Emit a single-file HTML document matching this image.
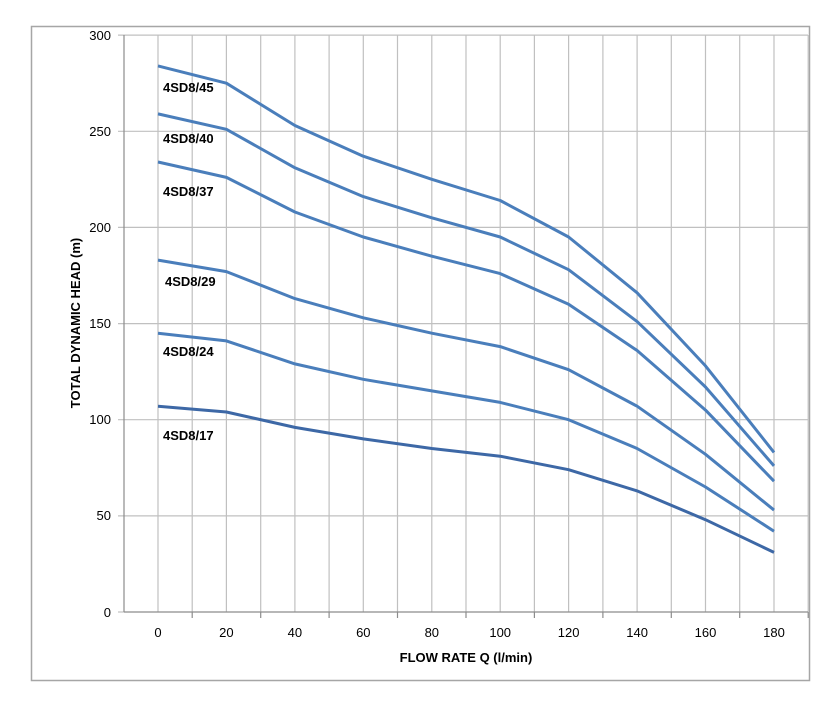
<!DOCTYPE html>
<html><head><style>body{margin:0;background:#fff}</style></head><body>
<svg width="836" height="707" xmlns="http://www.w3.org/2000/svg" font-family="Liberation Sans, sans-serif">
<rect x="31.5" y="26.5" width="778" height="654" fill="#fff" stroke="#a6a6a6" stroke-width="1.5"/>
<g stroke="#c0c0c0" stroke-width="1.2">
<line x1="158" y1="35" x2="158" y2="612"/><line x1="192.2" y1="35" x2="192.2" y2="612"/><line x1="226.4" y1="35" x2="226.4" y2="612"/><line x1="260.7" y1="35" x2="260.7" y2="612"/><line x1="294.9" y1="35" x2="294.9" y2="612"/><line x1="329.1" y1="35" x2="329.1" y2="612"/><line x1="363.3" y1="35" x2="363.3" y2="612"/><line x1="397.5" y1="35" x2="397.5" y2="612"/><line x1="431.8" y1="35" x2="431.8" y2="612"/><line x1="466" y1="35" x2="466" y2="612"/><line x1="500.2" y1="35" x2="500.2" y2="612"/><line x1="534.4" y1="35" x2="534.4" y2="612"/><line x1="568.6" y1="35" x2="568.6" y2="612"/><line x1="602.9" y1="35" x2="602.9" y2="612"/><line x1="637.1" y1="35" x2="637.1" y2="612"/><line x1="671.3" y1="35" x2="671.3" y2="612"/><line x1="705.5" y1="35" x2="705.5" y2="612"/><line x1="739.7" y1="35" x2="739.7" y2="612"/><line x1="774" y1="35" x2="774" y2="612"/><line x1="808.2" y1="35" x2="808.2" y2="612"/>
<line x1="118" y1="35.1" x2="808" y2="35.1"/><line x1="118" y1="131.3" x2="808" y2="131.3"/><line x1="118" y1="227.4" x2="808" y2="227.4"/><line x1="118" y1="323.6" x2="808" y2="323.6"/><line x1="118" y1="419.7" x2="808" y2="419.7"/><line x1="118" y1="515.9" x2="808" y2="515.9"/><line x1="118" y1="612" x2="124" y2="612"/>
</g>
<g stroke="#8c8c8c" stroke-width="1.2">
<line x1="124" y1="35" x2="124" y2="612"/><line x1="124" y1="612" x2="808" y2="612"/>
<line x1="192.2" y1="612" x2="192.2" y2="618"/><line x1="260.7" y1="612" x2="260.7" y2="618"/><line x1="329.1" y1="612" x2="329.1" y2="618"/><line x1="397.5" y1="612" x2="397.5" y2="618"/><line x1="466" y1="612" x2="466" y2="618"/><line x1="534.4" y1="612" x2="534.4" y2="618"/><line x1="602.9" y1="612" x2="602.9" y2="618"/><line x1="671.3" y1="612" x2="671.3" y2="618"/><line x1="739.7" y1="612" x2="739.7" y2="618"/><line x1="808.2" y1="612" x2="808.2" y2="618"/>
</g>
<g fill="none" stroke-width="3" stroke-linejoin="round" stroke="#4a7ebb">
<polyline points="158,65.9 226.4,83.2 294.9,125.5 363.3,156.2 431.8,179.3 500.2,200.5 568.6,237 637.1,292.8 705.5,365.9 774,452.4"/>
<polyline points="158,113.9 226.4,129.3 294.9,167.8 363.3,196.6 431.8,217.8 500.2,237 568.6,269.7 637.1,321.6 705.5,387 774,465.9"/>
<polyline points="158,162 226.4,177.4 294.9,212 363.3,237 431.8,256.2 500.2,273.6 568.6,304.3 637.1,350.5 705.5,410.1 774,481.2"/>
<polyline points="158,260.1 226.4,271.6 294.9,298.6 363.3,317.8 431.8,333.2 500.2,346.6 568.6,369.7 637.1,406.2 705.5,454.3 774,510.1"/>
<polyline points="158,333.2 226.4,340.9 294.9,363.9 363.3,379.3 431.8,390.9 500.2,402.4 568.6,419.7 637.1,448.5 705.5,487 774,531.2"/>
<polyline stroke="#3d68a6" points="158,406.2 226.4,412 294.9,427.4 363.3,438.9 431.8,448.5 500.2,456.2 568.6,469.7 637.1,490.9 705.5,519.7 774,552.4"/>
</g>
<g font-size="13" fill="#000">
<text x="111" y="40" text-anchor="end">300</text><text x="111" y="136" text-anchor="end">250</text><text x="111" y="232" text-anchor="end">200</text><text x="111" y="328" text-anchor="end">150</text><text x="111" y="424" text-anchor="end">100</text><text x="111" y="520" text-anchor="end">50</text><text x="111" y="617" text-anchor="end">0</text>
<g text-anchor="middle"><text x="158" y="637">0</text><text x="226.4" y="637">20</text><text x="294.9" y="637">40</text><text x="363.3" y="637">60</text><text x="431.8" y="637">80</text><text x="500.2" y="637">100</text><text x="568.6" y="637">120</text><text x="637.1" y="637">140</text><text x="705.5" y="637">160</text><text x="774" y="637">180</text></g>
</g>
<g font-size="13" font-weight="bold" fill="#000">
<text x="163" y="92">4SD8/45</text>
<text x="163" y="143">4SD8/40</text>
<text x="163" y="196">4SD8/37</text>
<text x="165" y="286">4SD8/29</text>
<text x="163" y="356">4SD8/24</text>
<text x="163" y="440">4SD8/17</text>
<text x="466" y="662" text-anchor="middle">FLOW RATE Q (l/min)</text>
<text transform="translate(80,323) rotate(-90)" text-anchor="middle">TOTAL DYNAMIC HEAD (m)</text>
</g>
</svg>
</body></html>
